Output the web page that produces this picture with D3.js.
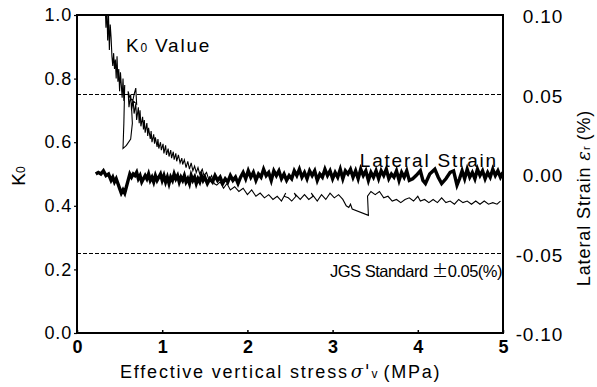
<!DOCTYPE html>
<html>
<head>
<meta charset="utf-8">
<script src="https://cdn.jsdelivr.net/npm/d3@7/dist/d3.min.js"></script>
<style>
  html, body { margin: 0; padding: 0; background: #fff; }
  svg { display: block; font-family: "Liberation Sans", Arial, sans-serif; }
</style>
</head>
<body>
<svg id="chart" width="597" height="387"></svg>
<script>
// Effective vertical stress (MPa) and K0 coefficient of earth pressure at rest
const k0Stress = [
  0.33, 0.34, 0.35, 0.36, 0.37, 0.38, 0.39, 0.40, 0.41, 0.42, 0.43, 0.44, 0.45, 0.46, 0.47, 0.48,
  0.49, 0.50, 0.51, 0.52, 0.53, 0.54, 0.55, 0.56, 0.55, 0.54, 0.58, 0.63, 0.65, 0.64, 0.67, 0.69,
  0.70, 0.62, 0.60, 0.61, 0.63, 0.64, 0.66, 0.67, 0.69, 0.70, 0.72, 0.73, 0.74, 0.75, 0.77, 0.78,
  0.79, 0.80, 0.82, 0.83, 0.84, 0.86, 0.87, 0.88, 0.90, 0.91, 0.92, 0.94, 0.95, 0.96, 0.98, 0.99,
  1.01, 1.02, 1.04, 1.05, 1.07, 1.08, 1.10, 1.11, 1.13, 1.14, 1.16, 1.17, 1.19, 1.21, 1.23, 1.24,
  1.26, 1.28, 1.30, 1.32, 1.34, 1.36, 1.38, 1.40, 1.42, 1.44, 1.47, 1.49, 1.52, 1.55, 1.58, 1.61,
  1.64, 1.68, 1.72, 1.76, 1.80, 1.85, 1.90, 1.95, 2.00, 2.05, 2.10, 2.15, 2.20, 2.25, 2.30, 2.35,
  2.40, 2.45, 2.43, 2.48, 2.52, 2.57, 2.55, 2.62, 2.67, 2.72, 2.77, 2.75, 2.82, 2.87, 2.92, 2.97,
  3.02, 3.07, 3.12, 3.16, 3.19, 3.21, 3.23, 3.42, 3.41, 3.45, 3.50, 3.55, 3.60, 3.65, 3.70, 3.75,
  3.80, 3.85, 3.90, 3.95, 4.00, 4.03, 4.08, 4.13, 4.18, 4.23, 4.28, 4.33, 4.38, 4.43, 4.48, 4.53,
  4.58, 4.63, 4.68, 4.73, 4.78, 4.83, 4.88, 4.93, 4.97
];
const k0Values = [
  1.04, 0.96, 1.03, 0.92, 1.00, 0.89, 0.97, 0.93, 0.87, 0.84, 0.88, 0.83, 0.86, 0.80, 0.87, 0.79,
  0.83, 0.76, 0.82, 0.78, 0.74, 0.80, 0.73, 0.78, 0.66, 0.58, 0.59, 0.61, 0.66, 0.71, 0.75, 0.77,
  0.72, 0.74, 0.76, 0.71, 0.75, 0.70, 0.73, 0.69, 0.72, 0.67, 0.71, 0.66, 0.70, 0.65, 0.68, 0.64,
  0.67, 0.63, 0.66, 0.62, 0.645, 0.61, 0.635, 0.60, 0.625, 0.595, 0.615, 0.585, 0.61, 0.58, 0.60, 0.575,
  0.595, 0.565, 0.59, 0.56, 0.58, 0.555, 0.575, 0.55, 0.57, 0.545, 0.565, 0.54, 0.56, 0.535, 0.55, 0.53,
  0.545, 0.52, 0.54, 0.515, 0.535, 0.51, 0.525, 0.505, 0.52, 0.50, 0.515, 0.495, 0.505, 0.48, 0.495, 0.47,
  0.465, 0.475, 0.455, 0.47, 0.45, 0.46, 0.445, 0.455, 0.435, 0.45, 0.43, 0.44, 0.425, 0.435, 0.42, 0.43,
  0.415, 0.44, 0.43, 0.425, 0.415, 0.43, 0.44, 0.42, 0.435, 0.42, 0.43, 0.44, 0.415, 0.435, 0.42, 0.44,
  0.425, 0.435, 0.42, 0.40, 0.395, 0.405, 0.39, 0.37, 0.43, 0.445, 0.435, 0.445, 0.425, 0.43, 0.415, 0.42,
  0.41, 0.42, 0.425, 0.415, 0.43, 0.415, 0.42, 0.41, 0.42, 0.41, 0.425, 0.41, 0.415, 0.405, 0.42, 0.41,
  0.415, 0.405, 0.415, 0.405, 0.415, 0.405, 0.41, 0.405, 0.415
];

// Lateral strain (%) against effective vertical stress (MPa)
const strainStress = [
  0.22, 0.25, 0.28, 0.31, 0.34, 0.37, 0.40, 0.42, 0.44, 0.46, 0.48, 0.50, 0.52, 0.54, 0.56, 0.58,
  0.60, 0.62, 0.64, 0.66, 0.68, 0.70, 0.72, 0.74, 0.76, 0.78, 0.80, 0.82, 0.84, 0.86, 0.88, 0.90,
  0.92, 0.94, 0.96, 0.98, 1.00, 1.02, 1.04, 1.06, 1.08, 1.10, 1.12, 1.14, 1.16, 1.18, 1.20, 1.22,
  1.24, 1.26, 1.28, 1.30, 1.32, 1.34, 1.36, 1.38, 1.40, 1.42, 1.44, 1.46, 1.48, 1.50, 1.53, 1.56,
  1.59, 1.62, 1.65, 1.68, 1.71, 1.74, 1.77, 1.80, 1.83, 1.86, 1.89, 1.92, 1.95, 1.98, 2.01, 2.04,
  2.07, 2.10, 2.13, 2.16, 2.19, 2.22, 2.25, 2.28, 2.31, 2.34, 2.37, 2.40, 2.43, 2.46, 2.49, 2.52,
  2.55, 2.58, 2.61, 2.64, 2.67, 2.70, 2.73, 2.76, 2.79, 2.82, 2.85, 2.88, 2.91, 2.94, 2.97, 3.00,
  3.03, 3.06, 3.09, 3.12, 3.15, 3.18, 3.21, 3.24, 3.27, 3.30, 3.33, 3.36, 3.39, 3.42, 3.45, 3.48,
  3.51, 3.54, 3.57, 3.60, 3.63, 3.66, 3.69, 3.72, 3.75, 3.78, 3.81, 3.84, 3.87, 3.90, 3.94, 3.98,
  4.03, 4.06, 4.09, 4.14, 4.20, 4.24, 4.28, 4.33, 4.38, 4.42, 4.46, 4.49, 4.52, 4.55, 4.58, 4.61,
  4.64, 4.67, 4.70, 4.73, 4.76, 4.79, 4.82, 4.85, 4.88, 4.91, 4.94, 4.97, 5.00
];
const strainValues = [
  0.000, 0.001, 0.000, 0.002, -0.001, 0.000, -0.004, -0.002, -0.005, -0.003, -0.006, -0.009, -0.012, -0.010, -0.012, -0.008,
  -0.004, 0.000, -0.002, 0.000, -0.001, 0.001, -0.003, -0.001, -0.005, -0.003, -0.001, -0.003, 0.000, -0.004, -0.002, -0.005,
  -0.001, -0.004, -0.002, 0.000, -0.004, -0.001, -0.005, -0.002, -0.006, -0.002, -0.004, 0.000, -0.003, -0.001, -0.005, -0.002,
  -0.004, -0.001, -0.005, -0.003, -0.006, -0.001, -0.004, -0.002, -0.006, -0.003, -0.005, -0.001, -0.004, -0.002, -0.006, -0.003,
  -0.005, -0.001, -0.004, -0.002, -0.006, -0.003, -0.005, -0.001, -0.004, -0.002, -0.006, -0.002, 0.001, -0.003, 0.002, -0.002,
  0.001, -0.004, 0.000, -0.002, 0.003, -0.001, 0.001, -0.004, 0.002, -0.001, 0.002, -0.003, 0.000, -0.004, -0.001, -0.003,
  0.002, -0.001, 0.003, -0.002, 0.001, -0.003, 0.002, -0.001, 0.002, -0.004, 0.000, -0.002, 0.003, -0.001, 0.002, -0.003,
  0.001, -0.002, 0.003, -0.003, 0.002, 0.000, 0.003, -0.002, 0.002, -0.003, 0.003, -0.001, 0.002, -0.004, 0.001, -0.002,
  0.002, -0.003, 0.002, -0.001, 0.003, -0.003, 0.000, -0.002, 0.002, -0.004, 0.001, -0.002, 0.002, -0.004, -0.003, -0.001,
  0.002, -0.004, -0.006, 0.000, 0.003, -0.002, -0.006, -0.003, 0.001, 0.002, -0.007, -0.003, 0.002, -0.003, 0.003, -0.002,
  0.001, -0.003, 0.003, -0.001, 0.002, -0.003, 0.001, -0.002, 0.003, -0.001, 0.002, -0.002, 0.001
];

// Axis ticks and the JGS tolerance band (%)
const xTicks = [0, 1, 2, 3, 4, 5];
const k0Ticks = [0, 0.2, 0.4, 0.6, 0.8, 1.0];
const strainTicks = [-0.10, -0.05, 0.00, 0.05, 0.10];
const tolerance = [0.05, -0.05];

const FONT = "'Liberation Sans', Arial, sans-serif";
const svg = d3.select("#chart");
const plotLeft = 77, plotRight = 503, plotTop = 15, plotBottom = 333;

const x = d3.scaleLinear().domain([0, 5]).range([plotLeft, plotRight]);
const yK = d3.scaleLinear().domain([0, 1]).range([plotBottom, plotTop]);
const yS = d3.scaleLinear().domain([-0.1, 0.1]).range([plotBottom, plotTop]);

svg.append("defs").append("clipPath").attr("id", "plot")
  .append("rect").attr("x", plotLeft).attr("y", plotTop)
  .attr("width", plotRight - plotLeft).attr("height", plotBottom - plotTop);

// Tolerance lines
svg.append("g").selectAll("line").data(tolerance).join("line")
  .attr("x1", plotLeft).attr("x2", plotRight)
  .attr("y1", d => yS(d)).attr("y2", d => yS(d))
  .attr("stroke", "#000").attr("stroke-width", 1)
  .attr("stroke-dasharray", "4,2");

const plot = svg.append("g").attr("clip-path", "url(#plot)");

const k0Data = k0Stress.map((s, i) => [s, k0Values[i]]);
const strainData = strainStress.map((s, i) => [s, strainValues[i]]);

plot.append("path")
  .datum(strainData)
  .attr("fill", "none").attr("stroke", "#000").attr("stroke-width", 3.4)
  .attr("stroke-linejoin", "miter")
  .attr("d", d3.line().x(d => x(d[0])).y(d => yS(d[1])));

plot.append("path")
  .datum(k0Data)
  .attr("fill", "none").attr("stroke", "#000").attr("stroke-width", 1.1)
  .attr("d", d3.line().x(d => x(d[0])).y(d => yK(d[1])));

// Frame
svg.append("rect")
  .attr("x", plotLeft).attr("y", plotTop)
  .attr("width", plotRight - plotLeft).attr("height", plotBottom - plotTop)
  .attr("fill", "none").attr("stroke", "#000").attr("stroke-width", 2);

// Bottom axis (inward ticks)
const xAxis = svg.append("g").attr("transform", `translate(0,${plotBottom})`)
  .call(d3.axisBottom(x).tickValues(xTicks).tickSizeInner(-3).tickSizeOuter(0)
    .tickPadding(7).tickFormat(d3.format("d")));
xAxis.select(".domain").remove();
xAxis.selectAll("line").attr("stroke-width", 1.5);
xAxis.selectAll("text").attr("font-size", 18).attr("font-weight", "bold")
  .attr("font-family", FONT).attr("fill", "#000");

// Left axis K0
const yAxisL = svg.append("g").attr("transform", `translate(${plotLeft},0)`)
  .call(d3.axisLeft(yK).tickValues(k0Ticks).tickSizeInner(3).tickSizeOuter(0)
    .tickPadding(2).tickFormat(d => d.toFixed(1)));
yAxisL.select(".domain").remove();
yAxisL.selectAll("line").attr("stroke-width", 1.2);
yAxisL.selectAll("text").attr("font-size", 18).attr("letter-spacing", 0.8)
  .attr("font-family", FONT).attr("fill", "#000");

// Right axis lateral strain
const yAxisR = svg.append("g").attr("transform", `translate(${plotRight},0)`)
  .call(d3.axisRight(yS).tickValues(strainTicks).tickSize(0).tickPadding(0)
    .tickFormat(d => d.toFixed(2)));
yAxisR.select(".domain").remove();
yAxisR.selectAll("text").attr("font-size", 19).attr("letter-spacing", 0.8)
  .attr("text-anchor", "end").attr("x", 60).attr("dy", "0.4em")
  .attr("font-family", FONT).attr("fill", "#000");

const txt = (sx, sy, size) => svg.append("text")
  .attr("x", sx).attr("y", sy).attr("font-size", size).attr("fill", "#000");

// Axis titles
const xt = txt(120, 378, 18).attr("letter-spacing", 1.8);
xt.append("tspan").text("Effective vertical stress");
xt.append("tspan").attr("font-style", "italic").attr("font-family", "'DejaVu Serif', serif")
  .attr("dx", 2).text("σ'");
xt.append("tspan").attr("font-size", 12).text("v");
xt.append("tspan").attr("dx", 4).text("(MPa)");

const yl = svg.append("text").attr("transform", "translate(25,176) rotate(-90)")
  .attr("text-anchor", "middle").attr("font-size", 19).attr("fill", "#000");
yl.append("tspan").text("K");
yl.append("tspan").attr("font-size", 12).text("0");

const yr = svg.append("text").attr("transform", "translate(590,198) rotate(-90)")
  .attr("text-anchor", "middle").attr("font-size", 18).attr("letter-spacing", 0.9).attr("fill", "#000");
yr.append("tspan").text("Lateral Strain ");
yr.append("tspan").attr("font-style", "italic").attr("font-family", "'DejaVu Serif', serif").text("ε");
yr.append("tspan").attr("font-size", 11).text("r");
yr.append("tspan").attr("dx", 5).text("(%)");

// In-plot labels
const kv = txt(126, 52, 19).attr("letter-spacing", 1.8);
kv.append("tspan").text("K");
kv.append("tspan").attr("font-size", 12).text("0");
kv.append("tspan").attr("dx", 6).text("Value");

txt(498, 167, 19).attr("letter-spacing", 1.8).attr("text-anchor", "end").text("Lateral Strain");

const jgs = txt(330, 277, 16.5).attr("letter-spacing", -0.5);
jgs.append("tspan").text("JGS Standard ");
jgs.append("tspan").attr("font-family", "'Noto Sans CJK JP', sans-serif").text("±");
jgs.append("tspan").text("0.05(%)");
</script>
</body>
</html>
